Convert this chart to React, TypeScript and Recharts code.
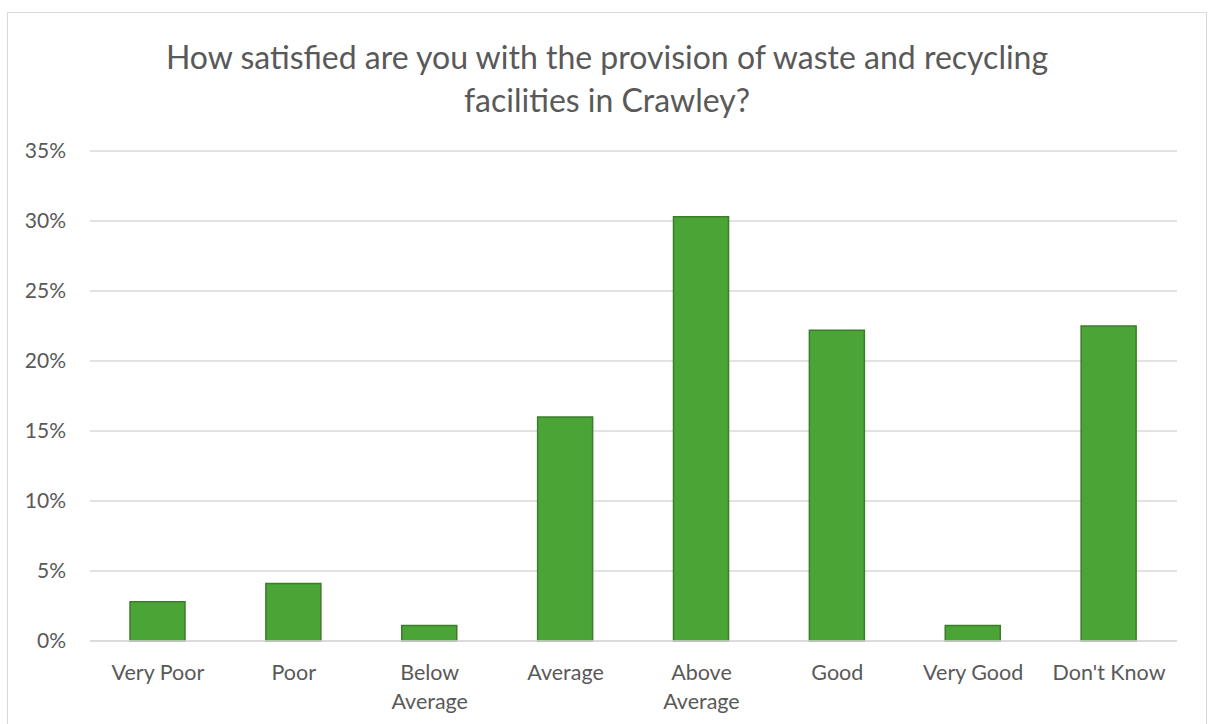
import React from "react";
import { BarChart, Bar, XAxis, YAxis, CartesianGrid } from "recharts";

const categories = ["Very Poor", "Poor", "Below Average", "Average", "Above Average", "Good", "Very Good", "Don't Know"];
const shares = [0.028, 0.041, 0.011, 0.16, 0.303, 0.222, 0.011, 0.225];
const yTicks = [0, 0.05, 0.1, 0.15, 0.2, 0.25, 0.3, 0.35];
const titleLines = ["How satisfied are you with the provision of waste and recycling", "facilities in Crawley?"];

const data = categories.map((c, i) => ({ category: c, value: shares[i] }));

const FONT = "Lato, 'Open Sans', sans-serif";
const TEXT = "#595959";

const XTick = (props: any) => {
  const { x, y, payload } = props;
  const label: string = payload.value;
  const lines = label.length > 10 ? label.split(" ") : [label];
  return (
    <text x={x} y={y} textAnchor="middle" fill={TEXT} fontFamily={FONT} fontSize={21.5}>
      {lines.map((l, i) => (
        <tspan key={i} x={x} dy={i === 0 ? "0.71em" : 29}>{l}</tspan>
      ))}
    </text>
  );
};

export default function App() {
  return (
    <div style={{ position: "absolute", left: 7, top: 12, width: 1198, height: 730, border: "1px solid #d9d9d9", background: "#fff", overflow: "hidden", fontFamily: FONT }}>
      <div style={{ position: "absolute", left: 0, top: 22, width: 1198, textAlign: "center", color: TEXT, fontSize: 32, lineHeight: "43px" }}>
        {titleLines.map((t, i) => <div key={i}>{t}</div>)}
      </div>
      <div style={{ position: "absolute", left: 0, top: 0 }}>
        <BarChart width={1196} height={711} data={data} margin={{ top: 138, right: 27, left: 0, bottom: 0 }}>
          <CartesianGrid vertical={false} stroke="#d9d9d9" strokeWidth={1.5} />
          <XAxis dataKey="category" axisLine={{ stroke: "#d9d9d9", strokeWidth: 1.5 }} tickLine={false} tickSize={0} tickMargin={24} height={83} tick={<XTick />} interval={0} />
          <YAxis domain={[0, 0.35]} ticks={yTicks} width={82} axisLine={false} tickLine={false} tickSize={0} tickMargin={24}
            tickFormatter={(v: number) => `${Math.round(v * 100)}%`}
            tick={{ fill: TEXT, fontFamily: FONT, fontSize: 21 }} />
          <Bar dataKey="value" fill="#4BA536" stroke="#3B7D2B" strokeWidth={1.5} barSize={55} isAnimationActive={false} />
        </BarChart>
      </div>
    </div>
  );
}
